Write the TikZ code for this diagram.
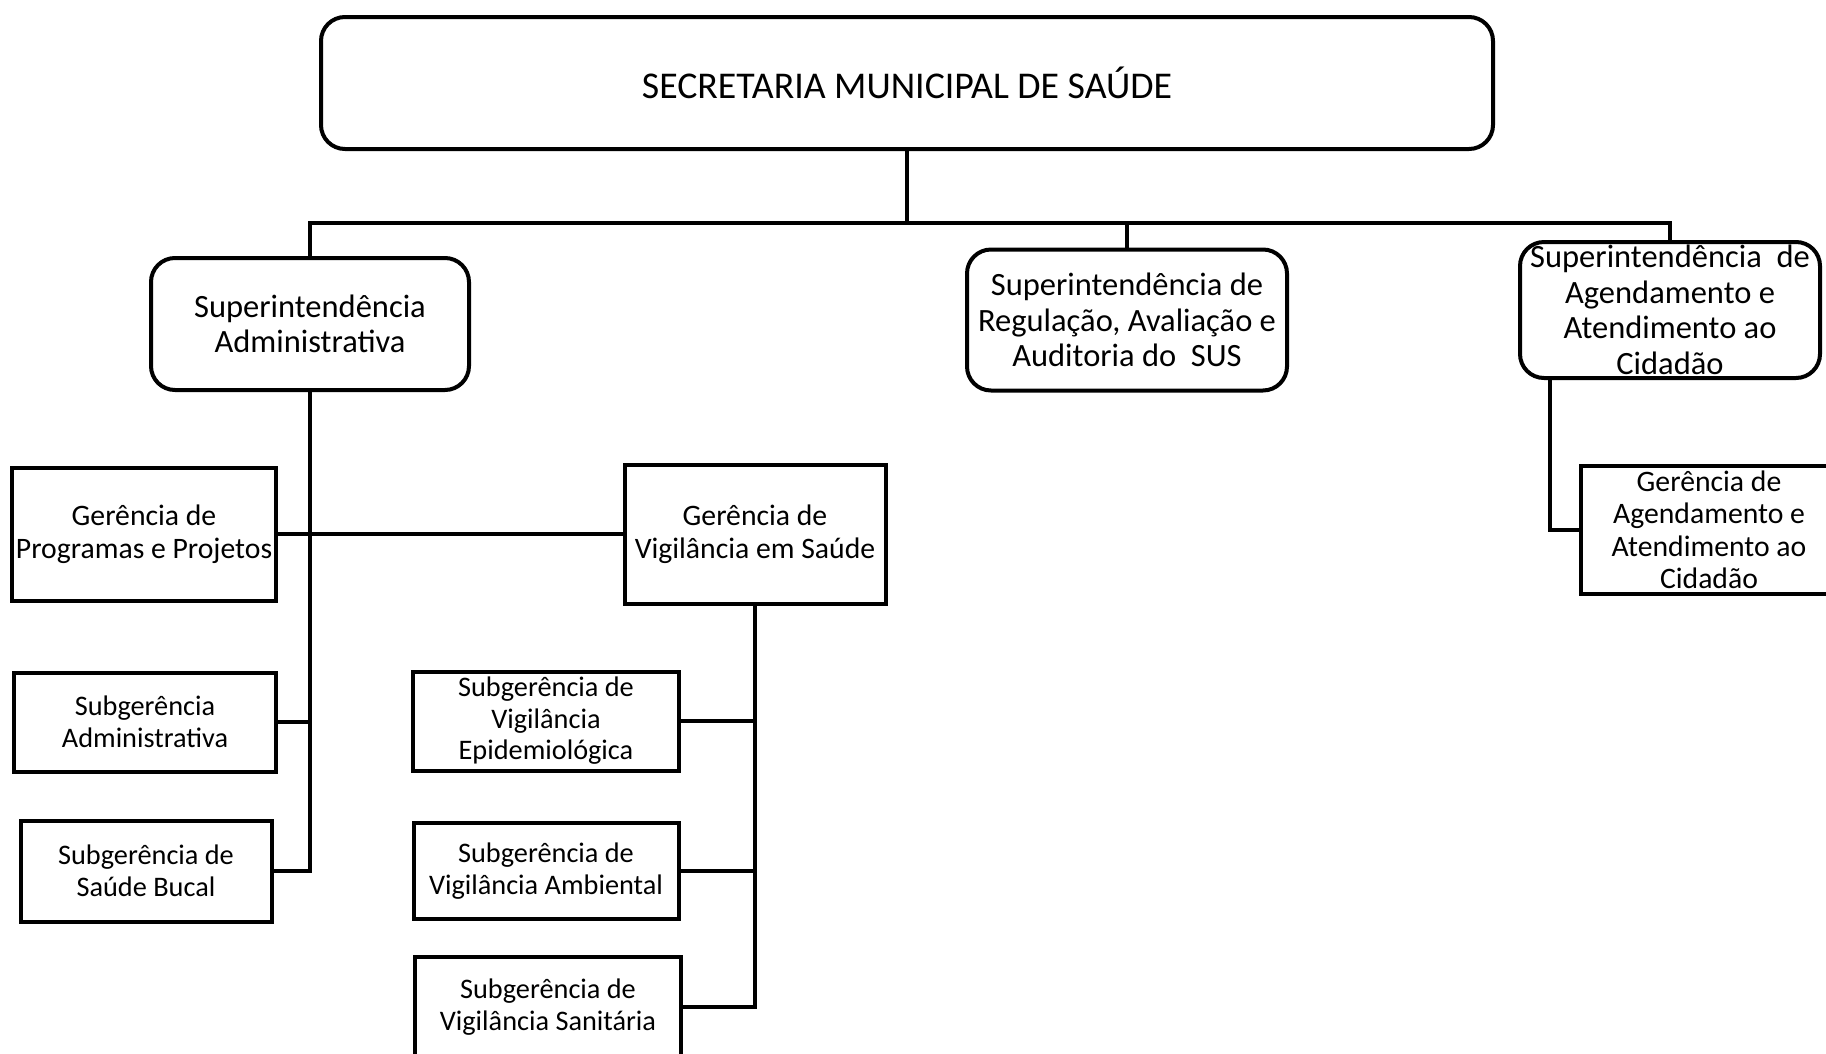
\documentclass[tikz,border=0pt]{standalone}
\usepackage{fontspec}
\setmainfont{Carlito}
\usetikzlibrary{positioning}

\begin{document}
\begin{tikzpicture}[x=1pt,y=-1pt,
unit/.style={draw,line width=4pt,align=center,inner sep=1pt,font=\fontsize{28.3}{31.5}\selectfont},
manager/.style={unit,font=\fontsize{29.7}{32.5}\selectfont},
chief/.style={unit,rounded corners=24pt,font=\fontsize{32.5}{35.5}\selectfont},
link/.style={line width=4pt}]
\useasboundingbox (0,0) rectangle (1826,1053);
\node[chief,minimum width=1172pt,minimum height=132pt,font=\fontsize{37.8}{42}\selectfont] (sms) at (907,83) {SECRETARIA MUNICIPAL DE SAÚDE};
\node[chief,minimum width=318pt,minimum height=132pt] (sadm) at (310,324) {Superintendência\\Administrativa};
\node[chief,minimum width=320pt,minimum height=141pt] (sreg) at (1127,320) {Superintendência de\\Regulação, Avaliação e\\Auditoria do~ SUS};
\node[chief,minimum width=300pt,minimum height=136pt,inner xsep=0pt,inner ysep=-6pt] (saac) at (1670,310) {Superintendência~ de\\Agendamento e\\Atendimento ao\\Cidadão};
\node[manager,minimum width=264pt,minimum height=133pt] (gpp) at (144,534) {Gerência de\\Programas e Projetos};
\node[manager,minimum width=261pt,minimum height=139pt] (gvs) at (755,534) {Gerência de\\Vigilância em Saúde};
\node[unit,minimum width=262pt,minimum height=99pt] (subadm) at (145,722) {Subgerência\\Administrativa};
\node[unit,minimum width=251pt,minimum height=101pt] (subbuc) at (146,871) {Subgerência de\\Saúde Bucal};
\node[unit,minimum width=266pt,minimum height=99pt,inner ysep=-3pt] (subepi) at (546,721) {Subgerência de\\Vigilância\\Epidemiológica};
\node[unit,minimum width=265pt,minimum height=96pt] (subamb) at (546,871) {Subgerência de\\Vigilância Ambiental};
\node[unit,minimum width=266pt,minimum height=100pt] (subsan) at (548,1007) {Subgerência de\\Vigilância Sanitária};
\node[manager,minimum width=256pt,minimum height=128pt,inner ysep=-4pt] (gaac) at (1709,530) {Gerência de\\Agendamento e\\Atendimento ao\\Cidadão};
\coordinate (bus) at (907,223);
% top level
\draw[link] (sms.south) -- (bus);
\draw[link] (sadm.north) -- (sadm.north |- bus) -- (saac.north |- bus) -- (saac.north);
\draw[link] (sreg.north) -- (sreg.north |- bus);
% administrativa branch
\draw[link] (sadm.south) -- (sadm.south |- subbuc.east) -- (subbuc.east);
\draw[link] (gpp.east) -- (gvs.west);
\draw[link] (subadm.east) -- (subadm.east -| sadm.south);
% vigilancia branch
\draw[link] (gvs.south) -- (gvs.south |- subsan.east) -- (subsan.east);
\draw[link] (subepi.east) -- (subepi.east -| gvs.south);
\draw[link] (subamb.east) -- (subamb.east -| gvs.south);
% agendamento branch
\draw[link] ([xshift=32pt]saac.south west) |- (gaac.west);
\end{tikzpicture}
\end{document}
